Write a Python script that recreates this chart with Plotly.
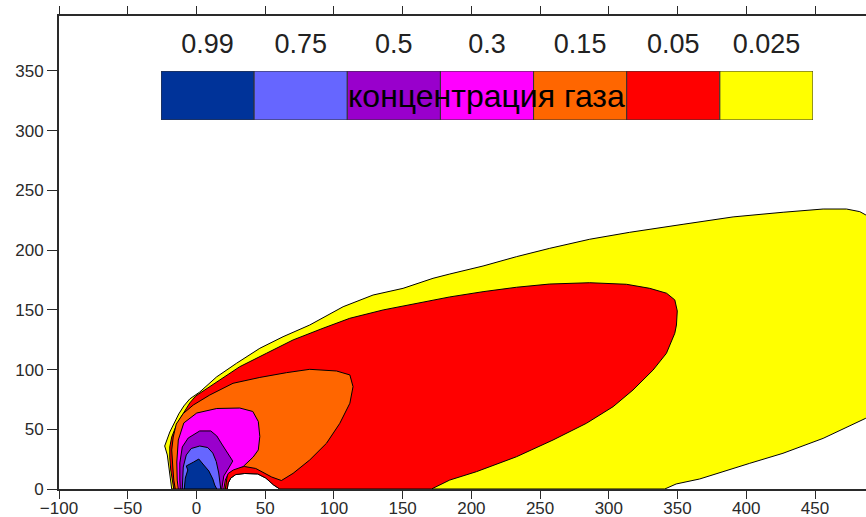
import plotly.graph_objects as go

# Concentration levels and their fill colours (highest concentration first)
levels = ["0.99", "0.75", "0.5", "0.3", "0.15", "0.05", "0.025"]
level_colors = ["#003399", "#6666FF", "#9900CC", "#FF00FF", "#FF6600", "#FF0000", "#FFFF00"]
legend_title = "концентрация газа"

# Low-concentration wake behind the source, at ground level (right -> left)
wake_x = [60.6, 56.2, 50.4, 44.6, 35.1, 28.6, 25.0, 23.1, 22.4]
wake_y = [0.0, 3.3, 9.2, 12.6, 13.0, 12.1, 9.2, 5.0, 0.0]

# Isoline 0.025
c0025_x = [-18.0, -19.1, -20.2, -21.2, -23.1, -21.6, -19.4, -16.5, -12.9, -9.2, -4.9, 2.4,
           14.6, 29.1, 46.1, 63.0, 82.4, 106.7, 128.5, 150.3, 172.1, 184.3, 208.5, 232.8,
           257.0, 286.1, 315.2, 354.0, 390.4, 426.8, 455.9, 472.9, 482.6, 487.0, 490.0,
           490.0, 486.9, 455.9, 426.7, 402.5, 383.1, 366.1, 349.0, 340.7]
c0025_y = [0.0, 9.2, 19.3, 28.5, 36.0, 41.0, 47.7, 54.4, 62.8, 69.5, 75.4, 81.2,
           93.8, 105.2, 117.8, 127.5, 137.3, 152.6, 162.4, 168.0, 176.4, 180.0, 186.7, 194.5,
           201.5, 209.1, 214.9, 221.6, 227.8, 231.7, 234.4, 234.4, 232.2, 229.4, 226.0,
           61.0, 59.2, 42.4, 29.9, 21.5, 14.5, 8.4, 4.2, 0.0]

# Isoline 0.05
c005_x = [-16.5, -17.6, -18.7, -19.4, -19.4, -18.0, -15.4, -12.1, -8.5, -4.9, -0.5, 14.6,
          31.5, 50.9, 70.3, 92.1, 111.5, 135.8, 160.1, 184.3, 208.5, 232.8, 257.0, 286.1,
          312.8, 329.8, 342.0, 348.0, 349.8, 349.2, 348.0, 345.6, 341.9, 332.2, 317.6,
          303.1, 283.7, 259.4, 232.8, 203.7, 184.3, 171.0]
c005_y = [0.0, 6.7, 15.9, 26.0, 35.2, 43.5, 51.1, 58.6, 65.3, 72.0, 77.9, 89.6,
          102.4, 113.6, 124.8, 134.6, 142.9, 149.9, 155.5, 160.8, 165.2, 168.9, 171.6, 172.7,
          171.4, 168.0, 163.9, 158.3, 149.0, 137.3, 130.4, 123.1, 113.6, 99.6, 82.9,
          68.9, 55.0, 41.0, 27.0, 14.5, 7.5, 0.0]

# Isoline 0.15
c015_x = [-15.4, -16.5, -17.2, -18.0, -16.9, -14.7, -9.6, -2.3, 9.7, 26.6, 46.1, 65.5,
          82.4, 101.9, 111.6, 113.9, 111.6, 104.3, 94.6, 82.4, 70.3, 61.8, 54.8, 48.9,
          43.1, 35.1, 26.4, 22.8, 21.7, 21.0]
c015_y = [0.0, 7.5, 18.4, 32.7, 43.5, 54.4, 63.2, 70.3, 78.7, 88.5, 93.4, 97.4,
          100.2, 98.8, 95.5, 85.7, 71.8, 55.0, 38.3, 24.3, 13.1, 7.1, 10.0, 13.8,
          17.2, 18.8, 18.0, 14.2, 7.5, 0.0]

# Isoline 0.3
c03_x = [-13.2, -14.0, -14.3, -13.2, -9.2, 0.2, 14.8, 31.5, 41.0, 45.0, 46.1, 45.0,
         41.3, 34.0, 26.8, 23.1, 21.0, 19.9]
c03_y = [0.0, 7.5, 22.6, 41.0, 55.3, 63.6, 67.4, 67.8, 64.9, 56.5, 44.0, 32.7,
         26.8, 18.8, 15.9, 13.0, 7.5, 0.0]

# Isoline 0.5
c05_x = [-11.8, -12.1, -12.1, -10.3, -6.0, 2.4, 10.4, 14.8, 18.4, 22.0, 26.4, 23.5, 19.9, 18.4]
c05_y = [0.0, 7.5, 21.8, 35.2, 42.7, 48.6, 48.6, 44.4, 37.7, 31.0, 23.4, 17.6, 10.9, 0.0]

# Isoline 0.75
c075_x = [-10.3, -10.0, -9.6, -7.4, -3.8, 2.4, 8.2, 11.9, 14.4, 16.2, 17.3, 17.7]
c075_y = [0.0, 7.5, 18.4, 28.5, 33.9, 36.0, 34.7, 30.1, 23.0, 13.4, 5.0, 0.0]

# Isoline 0.99
c099_x = [-8.9, -8.1, -6.3, -7.4, -2.0, 1.7, 5.3, 9.0, 11.9, 13.3, 14.8]
c099_y = [0.0, 9.2, 15.9, 19.3, 22.6, 25.1, 20.1, 15.1, 8.4, 3.3, 0.0]

fig = go.Figure()


def add_zone(xs, ys, color, around_wake=False):
    """Filled concentration zone; ground edge optionally runs around the wake."""
    if around_wake:
        xs = list(xs) + wake_x
        ys = list(ys) + wake_y
    fig.add_trace(go.Scatter(
        x=list(xs) + [xs[0]], y=list(ys) + [ys[0]],
        mode="lines", fill="toself", fillcolor=color,
        line=dict(color="#000000", width=1),
        hoverinfo="skip", showlegend=False,
    ))


# Outer (weakest) zones first, stronger ones on top
add_zone(c0025_x, c0025_y, level_colors[6], around_wake=True)
add_zone(c005_x, c005_y, level_colors[5], around_wake=True)
add_zone(c015_x, c015_y, level_colors[4])
add_zone(c03_x, c03_y, level_colors[3])
add_zone(c05_x, c05_y, level_colors[2])
add_zone(c075_x, c075_y, level_colors[1])
add_zone(c099_x, c099_y, level_colors[0])

# Colour key drawn as a strip of equal swatches on its own small axis pair
fig.add_trace(go.Bar(
    x=levels, y=[1] * len(levels), width=1,
    marker=dict(color=level_colors, line=dict(color="#333333", width=1)),
    xaxis="x2", yaxis="y2", hoverinfo="skip", showlegend=False,
))

font_family = "Liberation Sans, Arial, sans-serif"

fig.add_annotation(
    x=3, y=0.5, xref="x2", yref="y2", text=legend_title, showarrow=False,
    font=dict(family=font_family, size=32, color="#000000"),
)

axis_common = dict(
    showgrid=False, zeroline=False, showline=True, linecolor="#2a2a2a", linewidth=2,
    ticks="outside", tickcolor="#2a2a2a", tickwidth=1, automargin=False,
    tickfont=dict(family=font_family, size=17, color="#2a2a2a"),
)

fig.update_layout(
    width=866, height=517,
    margin=dict(l=59, r=0, t=16, b=28),
    paper_bgcolor="#ffffff", plot_bgcolor="#ffffff",
    showlegend=False,
    xaxis=dict(range=[-100, 487.1], dtick=50, ticklen=8, mirror="ticks",
               ticklabelstandoff=-5, **axis_common),
    yaxis=dict(range=[0, 396], dtick=50, ticklen=10, **axis_common),
    xaxis2=dict(domain=[0.1264, 0.9343], anchor="y2", range=[-0.5, 6.5], side="top",
                showgrid=False, zeroline=False, showline=False, ticks="", automargin=False,
                tickfont=dict(family=font_family, size=27, color="#222222"),
                ticklabelstandoff=12),
    yaxis2=dict(domain=[0.7801, 0.8837], anchor="x2", range=[0, 1], visible=False,
                automargin=False),
)

fig.write_html("out.html")
